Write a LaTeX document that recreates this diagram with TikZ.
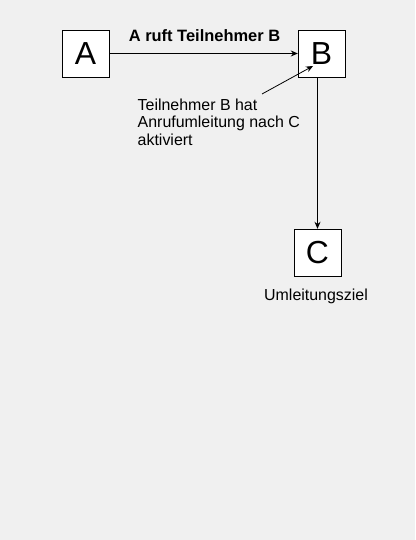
\documentclass[tikz,border=0pt]{standalone}
\usepackage{fontspec}
\setmainfont{Liberation Sans}
\usetikzlibrary{arrows.meta}
\definecolor{bggrey}{RGB}{240,240,240}
\begin{document}
\begin{tikzpicture}[x=1bp, y=-1bp,
  box/.style={draw, fill=white, minimum size=47bp, inner sep=0pt, font=\fontsize{32}{36}\selectfont},
  txt/.style={inner sep=0pt, font=\fontsize{16}{17.5}\selectfont},
  pfeil/.style={-{Stealth[length=7bp,width=6bp]}, line width=0.8bp}]
\fill[bggrey] (0,0) rectangle (415,540);
\node[box] (tA) at (85.5,53.5){A};
\node[box] (tB) at (321.5,53.5){B};
\node[box] (tC) at (317.5,252.5){C};
\node[txt, font=\bfseries\fontsize{16.5}{18}\selectfont, anchor=base] (tRuf) at (204.5,42){A ruft Teilnehmer B};
\node[txt, align=left, anchor=north west] (tInfo) at (137.5,98.5){Teilnehmer B hat\\Anrufumleitung nach C\\aktiviert};
\node[txt, anchor=base] (tZiel) at (316,300){Umleitungsziel};
\coordinate (pInfo) at (262,94);
\coordinate (pB) at (313,66);
\draw[pfeil](tA) -- (tB);
\draw[pfeil](pInfo) -- (pB);
\draw[pfeil](tC.north |- tB.south) -- (tC.north);
\end{tikzpicture}
\end{document}
